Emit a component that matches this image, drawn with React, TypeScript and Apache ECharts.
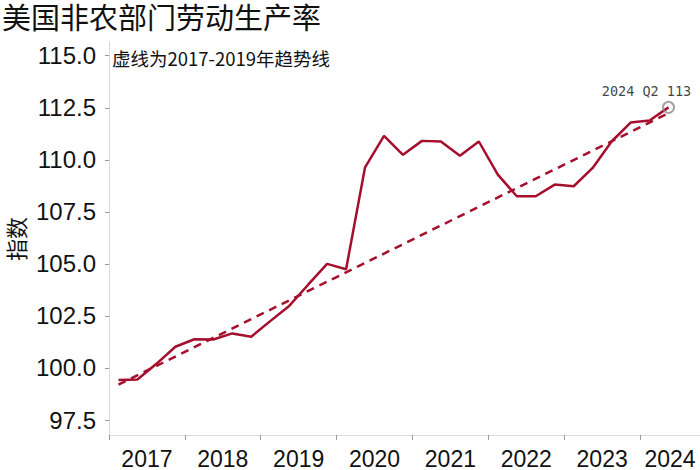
import React, { useEffect, useRef } from "react";
import * as echarts from "echarts";

const titleText = "美国非农部门劳动生产率";
const noteText = "虚线为2017-2019年趋势线";
const yAxisName = "指数";

const quarters = [
  "2017Q1", "2017Q2", "2017Q3", "2017Q4",
  "2018Q1", "2018Q2", "2018Q3", "2018Q4",
  "2019Q1", "2019Q2", "2019Q3", "2019Q4",
  "2020Q1", "2020Q2", "2020Q3", "2020Q4",
  "2021Q1", "2021Q2", "2021Q3", "2021Q4",
  "2022Q1", "2022Q2", "2022Q3", "2022Q4",
  "2023Q1", "2023Q2", "2023Q3", "2023Q4",
  "2024Q1", "2024Q2",
];

const productivity = [
  99.42, 99.45, 100.2, 101.02,
  101.38, 101.37, 101.66, 101.5,
  102.25, 102.98, 104.0, 105.0,
  104.74, 109.64, 111.15, 110.24,
  110.91, 110.88, 110.2, 110.88,
  109.29, 108.25, 108.25, 108.81,
  108.73, 109.61, 110.88, 111.79,
  111.89, 112.52,
];

const trendQuarters = ["2017Q1", "2024Q2"];
const trendValues = [99.2, 112.24];

const yTicks = [97.5, 100.0, 102.5, 105.0, 107.5, 110.0, 112.5, 115.0];
const years = [2017, 2018, 2019, 2020, 2021, 2022, 2023, 2024];

const X_MIN = 2017;
const X_MAX = 2024.79;
const Y_MIN = 96.78;
const Y_MAX = 115.66;

const RED = "#A50F2D";
const NUM_FONT = "'Liberation Sans Narrow', 'Liberation Sans', Arial, sans-serif";
const CJK_FONT = "'Noto Sans CJK SC', sans-serif";

function qx(q: string): number {
  const y = parseInt(q.slice(0, 4), 10);
  const n = parseInt(q.slice(5), 10);
  return y + (n - 0.5) / 4;
}

export default function App() {
  const ref = useRef<HTMLDivElement>(null);

  useEffect(() => {
    if (!ref.current) return;
    const chart = echarts.init(ref.current, undefined, { renderer: "svg" });

    const lineData = quarters.map((q, i) => [qx(q), productivity[i]]);
    const trendData = trendQuarters.map((q, i) => [qx(q), trendValues[i]]);
    const lastIdx = quarters.length - 1;
    const lastQ = quarters[lastIdx];
    const lastVal = productivity[lastIdx];
    const lastLabel = `${lastQ.slice(0, 4)} ${lastQ.slice(4)} ${Math.round(lastVal)}`;

    const labelPos = years.map((y, i) =>
      i < years.length - 1 ? y + 0.5 : (y + X_MAX) / 2
    );

    chart.setOption({
      animation: false,
      backgroundColor: "#ffffff",
      title: {
        text: titleText,
        left: 2,
        top: 1,
        padding: 0,
        textStyle: {
          fontSize: 29,
          fontWeight: "normal",
          fontFamily: CJK_FONT,
          color: "#111111",
        },
      },
      grid: { left: 109, right: 0, top: 42, bottom: 34, containLabel: false },
      xAxis: {
        type: "value",
        min: X_MIN,
        max: X_MAX,
        interval: 1,
        axisLine: { show: true, lineStyle: { color: "#d9d9d9", width: 1 } },
        axisTick: {
          show: true,
          length: 5,
          customValues: years,
          lineStyle: { color: "#999999", width: 1 },
        },
        axisLabel: {
          show: true,
          customValues: labelPos,
          margin: 12,
          fontSize: 23,
          fontFamily: NUM_FONT,
          color: "#111111",
          formatter: (v: number) => String(Math.floor(v)),
        },
        splitLine: { show: false },
      },
      yAxis: {
        type: "value",
        min: Y_MIN,
        max: Y_MAX,
        axisLine: { show: true, lineStyle: { color: "#d9d9d9", width: 1 } },
        axisTick: {
          show: true,
          length: 4,
          customValues: yTicks,
          lineStyle: { color: "#999999", width: 1 },
        },
        axisLabel: {
          show: true,
          customValues: yTicks,
          margin: 13,
          fontSize: 24,
          fontFamily: NUM_FONT,
          color: "#111111",
          formatter: (v: number) => v.toFixed(1),
        },
        splitLine: { show: false },
      },
      graphic: [
        {
          type: "text",
          x: 112,
          y: 58,
          style: {
            text: noteText,
            fontSize: 18.5,
            fontFamily: CJK_FONT,
            fill: "#111111",
            verticalAlign: "middle",
            align: "left",
          },
        },
        {
          type: "text",
          x: 15,
          y: 239,
          rotation: Math.PI / 2,
          style: {
            text: yAxisName,
            fontSize: 22,
            fontFamily: CJK_FONT,
            fill: "#111111",
            align: "center",
            verticalAlign: "middle",
          },
        },
      ],
      series: [
        {
          type: "line",
          data: trendData,
          showSymbol: false,
          symbol: "none",
          lineStyle: { color: RED, width: 2.5, type: [8, 6] },
          z: 2,
        },
        {
          type: "line",
          data: lineData,
          showSymbol: false,
          symbol: "none",
          lineStyle: { color: RED, width: 2.5 },
          z: 3,
        },
        {
          type: "scatter",
          data: [[qx(lastQ), lastVal]],
          symbol: "circle",
          symbolSize: 11,
          itemStyle: { color: "rgba(255,255,255,0)", borderColor: "#8c8c8c", borderWidth: 2 },
          label: {
            show: true,
            position: "top",
            distance: 3,
            offset: [-22, 0],
            formatter: () => lastLabel,
            fontSize: 13.5,
            fontFamily: "'DejaVu Sans Mono', monospace",
            color: "#111111",
          },
          z: 4,
        },
      ],
    });

    return () => chart.dispose();
  }, []);

  return (
    <div
      ref={ref}
      style={{ position: "fixed", left: 0, top: 0, width: 700, height: 470 }}
    />
  );
}
